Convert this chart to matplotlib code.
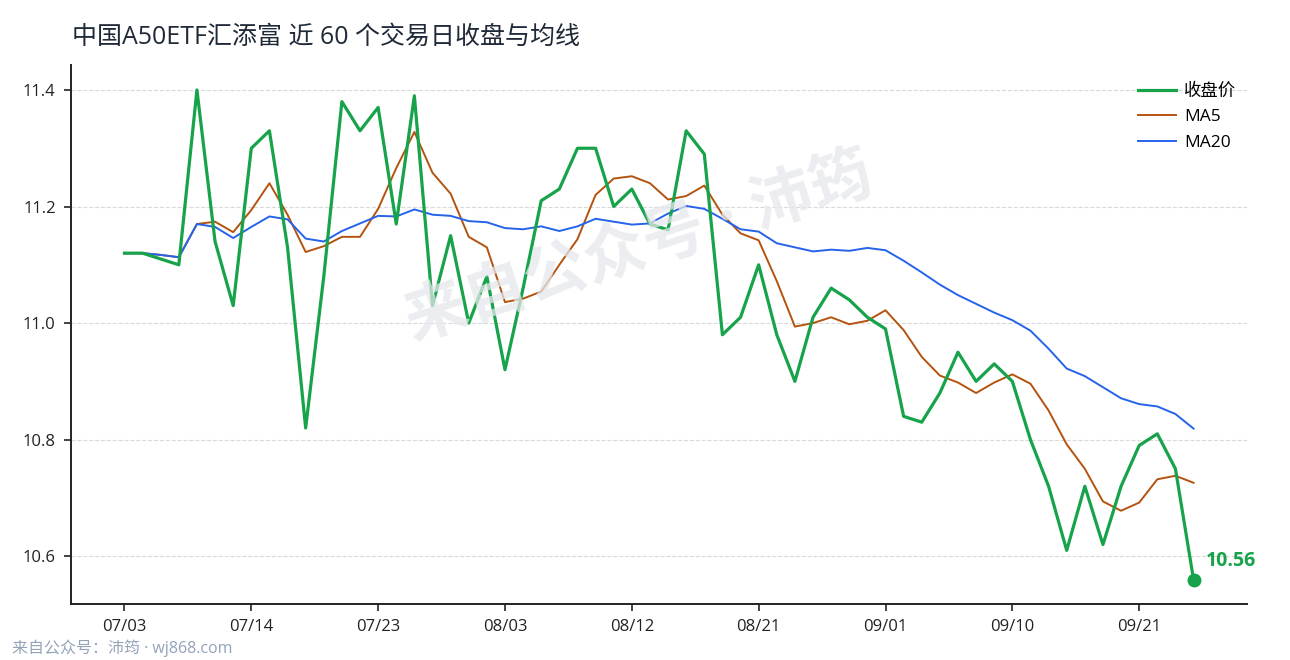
import numpy as np
import matplotlib
matplotlib.use("Agg")
import matplotlib.pyplot as plt

plt.rcParams['font.family'] = ['Open Sans', 'Noto Sans CJK SC', 'DejaVu Sans']
plt.rcParams['axes.unicode_minus'] = False

# data
close = [11.12, 11.12, 11.11, 11.10, 11.40, 11.14, 11.03, 11.30, 11.33, 11.13,
         10.82, 11.08, 11.38, 11.33, 11.37, 11.17, 11.39, 11.03, 11.15, 11.00,
         11.08, 10.92, 11.06, 11.21, 11.23, 11.30, 11.30, 11.20, 11.23, 11.17,
         11.16, 11.33, 11.29, 10.98, 11.01, 11.10, 10.98, 10.90, 11.01, 11.06,
         11.04, 11.01, 10.99, 10.84, 10.83, 10.88, 10.95, 10.90, 10.93, 10.90,
         10.80, 10.72, 10.61, 10.72, 10.62, 10.72, 10.79, 10.81, 10.75, 10.56]

ma5 = [11.120, 11.120, 11.117, 11.113, 11.170, 11.174, 11.156, 11.194, 11.240, 11.186,
       11.122, 11.132, 11.148, 11.148, 11.196, 11.266, 11.328, 11.258, 11.222, 11.148,
       11.130, 11.036, 11.042, 11.054, 11.100, 11.144, 11.220, 11.248, 11.252, 11.240,
       11.212, 11.218, 11.236, 11.186, 11.154, 11.142, 11.072, 10.994, 11.000, 11.010,
       10.998, 11.004, 11.022, 10.988, 10.942, 10.910, 10.898, 10.880, 10.898, 10.912,
       10.896, 10.850, 10.792, 10.750, 10.694, 10.678, 10.692, 10.732, 10.738, 10.726]

ma20 = [11.120, 11.120, 11.117, 11.113, 11.170, 11.165, 11.146, 11.165, 11.183, 11.178,
        11.145, 11.140, 11.158, 11.171, 11.184, 11.183, 11.195, 11.186, 11.184, 11.175,
        11.173, 11.163, 11.161, 11.166, 11.158, 11.166, 11.179, 11.174, 11.169, 11.171,
        11.188, 11.201, 11.196, 11.179, 11.161, 11.157, 11.137, 11.130, 11.123, 11.126,
        11.124, 11.129, 11.125, 11.107, 11.087, 11.066, 11.048, 11.033, 11.018, 11.005,
        10.987, 10.956, 10.922, 10.909, 10.890, 10.871, 10.861, 10.857, 10.844, 10.819]

tick_idx = [0, 7, 14, 21, 28, 35, 42, 49, 56]
tick_labels = ['07/03', '07/14', '07/23', '08/03', '08/12', '08/21', '09/01', '09/10', '09/21']

GREEN = '#16a34a'
ORANGE = '#b4530f'
BLUE = '#2563eb'
DARK = '#222222'

x = np.arange(len(close))

fig = plt.figure(figsize=(12.9, 6.6), dpi=100)
ax = fig.add_axes([71 / 1290, 1 - 604 / 660, (1247 - 71) / 1290, (604 - 65.5) / 660])

ax.plot(x, close, color=GREEN, lw=2.3, label='收盘价', zorder=4)
ax.plot(x, ma5, color=ORANGE, lw=1.4, label='MA5', zorder=3)
ax.plot(x, ma20, color=BLUE, lw=1.4, label='MA20', zorder=3)

ax.plot(x[-1], close[-1], 'o', color=GREEN, ms=9, zorder=5)
ax.annotate(f'{close[-1]:.2f}', (x[-1], close[-1]), xytext=(9, 6),
            textcoords='offset points', color=GREEN, fontsize=14,
            fontweight='bold', ha='left', va='bottom')

ax.set_xticks(tick_idx)
ax.set_xticklabels(tick_labels)
ax.set_yticks([10.6, 10.8, 11.0, 11.2, 11.4])
ax.set_yticklabels(['10.6', '10.8', '11.0', '11.2', '11.4'])
ax.tick_params(labelsize=12, colors=DARK, length=5, width=1.2, pad=6)
ax.grid(axis='y', color='#d9d9d9', linestyle='--', linewidth=0.8)
ax.set_axisbelow(True)
for side in ['top', 'right']:
    ax.spines[side].set_visible(False)
for side in ['left', 'bottom']:
    ax.spines[side].set_color(DARK)
    ax.spines[side].set_linewidth(1.4)

leg = ax.legend(loc='upper right', bbox_to_anchor=(0.997, 0.98), frameon=False,
                fontsize=12.5, handlelength=2.2, handletextpad=0.5,
                labelspacing=0.55, borderaxespad=0)

fig.text(72 / 1290, 1 - 37 / 660, '中国A50ETF汇添富 近 60 个交易日收盘与均线',
         fontsize=18, color='#1f2937', ha='left', va='center')

fig.text(12 / 1290, 1 - 648 / 660, '来自公众号：沛筠 · wj868.com',
         fontsize=11.5, color='#94a3b8', ha='left', va='center')

fig.text(640 / 1290, 1 - 250 / 660, '来自公众号 · 沛筠', fontsize=45,
         fontweight='bold', color='#e5e7eb', alpha=0.75, rotation=18,
         ha='center', va='center', zorder=0)

fig.savefig('out.png', dpi=100, facecolor='white')
